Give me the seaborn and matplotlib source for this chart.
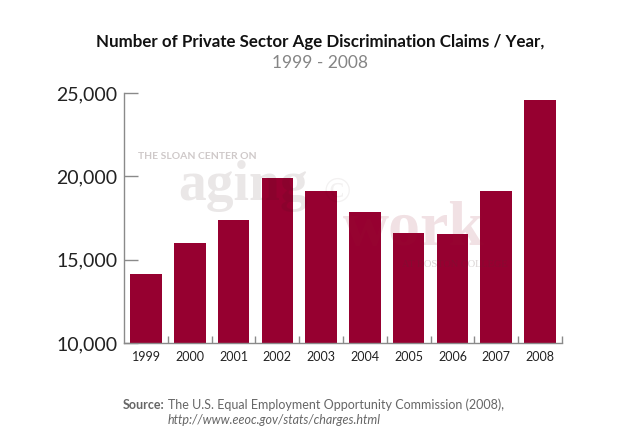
import matplotlib
matplotlib.use("Agg")
import matplotlib.pyplot as plt
import seaborn as sns
import pandas as pd

# Data (EEOC private sector age claims)
years = ["1999", "2000", "2001", "2002", "2003", "2004", "2005", "2006", "2007", "2008"]
claims = [14141, 16008, 17405, 19921, 19124, 17837, 16585, 16548, 19103, 24582]
y_ticks = [10000, 15000, 20000, 25000]
y_tick_labels = ["10,000", "15,000", "20,000", "25,000"]

BAR_COLOR = "#960030"
AXIS_GRAY = "#8a8a8a"

sns.set_style("white")
plt.rcParams["font.family"] = ["Lato", "DejaVu Sans"]

df = pd.DataFrame({"year": years, "claims": claims})

fig = plt.figure(figsize=(6.4, 4.4), dpi=100)
ax = fig.add_axes([0.194, 0.2205, 0.684, 0.568])

sns.barplot(data=df, x="year", y="claims", color=BAR_COLOR, saturation=1,
            width=0.72, ax=ax)
# bars start at the 10,000 baseline
for patch, v in zip(ax.patches, claims):
    patch.set_y(10000)
    patch.set_height(v - 10000)
    patch.set_edgecolor("none")

ax.set_xlim(-0.5, 9.5)
ax.set_ylim(10000, 25000)
ax.set_xlabel("")
ax.set_ylabel("")

ax.set_yticks(y_ticks)
ax.set_yticklabels(y_tick_labels, fontsize=14, color="#222222")
ax.set_xticks(range(len(years)))
ax.set_xticklabels(years, fontsize=9, color="#222222")
ax.set_xticks([i + 0.5 for i in range(len(years))], minor=True)

ax.tick_params(axis="y", direction="in", length=10, width=1, color=AXIS_GRAY, pad=5, left=True)
ax.tick_params(axis="x", which="major", length=0, pad=6)
ax.tick_params(axis="x", which="minor", direction="in", length=5, width=1, color=AXIS_GRAY, bottom=True)

for side in ["top", "right"]:
    ax.spines[side].set_visible(False)
for side in ["left", "bottom"]:
    ax.spines[side].set_color(AXIS_GRAY)
    ax.spines[side].set_linewidth(1)

# faint watermark (dark tint at low alpha: light on white, darker on the bars)
ax.text(0.031, 0.745, "THE SLOAN CENTER ON", transform=ax.transAxes, fontsize=7.5,
        va="center", color="#cfc9c9", fontweight="bold", zorder=5)
ax.text(0.123, 0.572, "aging", transform=ax.transAxes, fontsize=40, va="baseline",
        family="Liberation Serif", fontweight="bold", color=(0.2, 0.1, 0.1),
        alpha=0.1, zorder=5)
ax.text(0.455, 0.6, "\u00a9", transform=ax.transAxes, fontsize=26, va="center",
        family="Liberation Serif", color=(0.2, 0.1, 0.1), alpha=0.06, zorder=5)
ax.text(0.50, 0.392, "work", transform=ax.transAxes, fontsize=46, va="baseline",
        family="Liberation Serif", fontweight="bold", color=(0.6, 0.1, 0.2),
        alpha=0.13, zorder=5)
ax.text(0.635, 0.315, "AT BOSTON COLLEGE", transform=ax.transAxes, fontsize=7.5,
        va="center", family="Liberation Serif", color=(0.3, 0.2, 0.2),
        alpha=0.22, zorder=5)

fig.text(0.5, 0.905, "Number of Private Sector Age Discrimination Claims / Year,",
         ha="center", va="center", fontsize=12.2, fontweight="bold", color="#111111")
fig.text(0.5, 0.857, "1999 - 2008", ha="center", va="center", fontsize=12.5,
         color="#858585")

fig.text(0.192, 0.08, "Source:", ha="left", va="center", fontsize=9,
         fontweight="bold", color="#666666")
fig.text(0.262, 0.08, "The U.S. Equal Employment Opportunity Commission (2008),",
         ha="left", va="center", fontsize=9, color="#666666")
fig.text(0.262, 0.045, "http://www.eeoc.gov/stats/charges.html",
         ha="left", va="center", fontsize=9, style="italic", color="#666666")

fig.savefig("out.png", dpi=100, facecolor="white")
